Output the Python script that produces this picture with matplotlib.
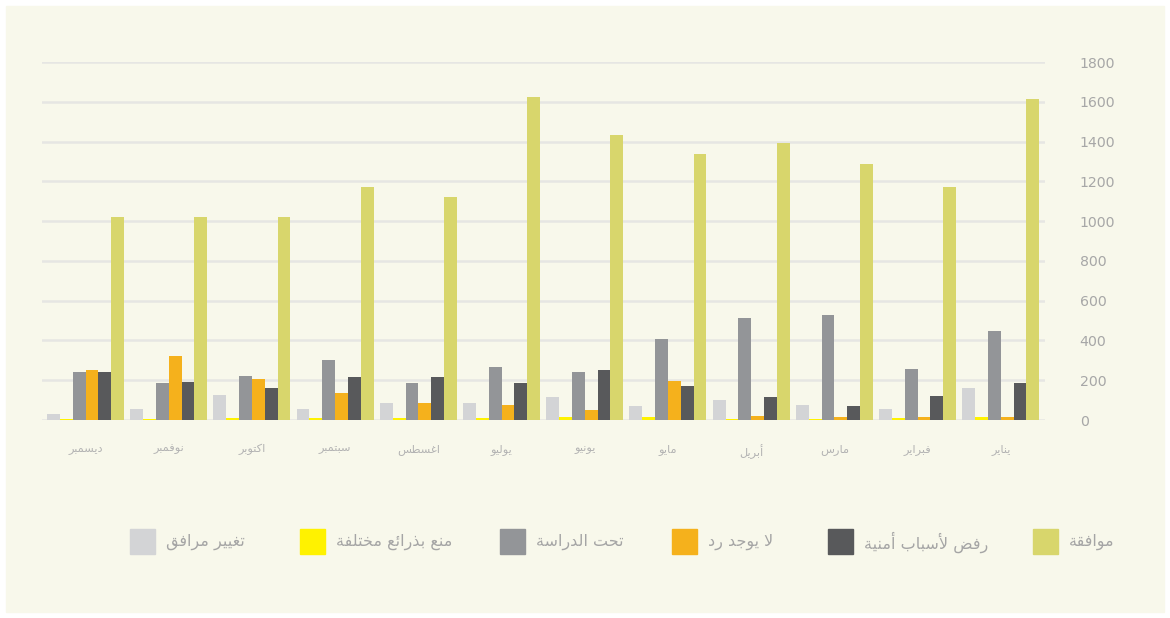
import numpy as np
import matplotlib
matplotlib.use("Agg")
import matplotlib.pyplot as plt
from matplotlib.patches import Rectangle

# months Jan..Dec (Arabic)
months = ["يناير", "فبراير", "مارس", "أبريل", "مايو", "يونيو",
          "يوليو", "اغسطس", "سبتمبر", "اكتوبر", "نوفمبر", "ديسمبر"]

# series, values Jan..Dec
facility_change = [160, 55, 75, 100, 70, 115, 85, 85, 55, 125, 55, 30]
blocked_misc    = [15, 8, 5, 5, 15, 15, 10, 10, 10, 10, 5, 5]
under_study     = [445, 255, 530, 515, 405, 240, 265, 185, 300, 220, 185, 240]
no_reply        = [15, 15, 15, 20, 195, 50, 75, 85, 135, 205, 320, 250]
security_reject = [185, 120, 70, 115, 170, 250, 185, 215, 215, 160, 190, 240]
approved        = [1615, 1170, 1285, 1395, 1335, 1435, 1625, 1120, 1170, 1020, 1020, 1020]

series_names = ["تغيير مرافق", "منع بذرائع مختلفة", "تحت الدراسة",
                "لا يوجد رد", "رفض لأسباب أمنية", "موافقة"]
series_vals = [facility_change, blocked_misc, under_study,
               no_reply, security_reject, approved]
colors = ["#d3d4d6", "#fff200", "#939598", "#f5b11c", "#58595b", "#d8d66c"]

yticks = [0, 200, 400, 600, 800, 1000, 1200, 1400, 1600, 1800]

# minimal arabic shaping: (isolated, final, initial, medial)
FORMS = {
    "ء": ("\uFE80", None, None, None),
    "أ": ("\uFE83", "\uFE84", None, None),
    "ا": ("\uFE8D", "\uFE8E", None, None),
    "ئ": ("\uFE89", "\uFE8A", "\uFE8B", "\uFE8C"),
    "ب": ("\uFE8F", "\uFE90", "\uFE91", "\uFE92"),
    "ة": ("\uFE93", "\uFE94", None, None),
    "ت": ("\uFE95", "\uFE96", "\uFE97", "\uFE98"),
    "ج": ("\uFE9D", "\uFE9E", "\uFE9F", "\uFEA0"),
    "ح": ("\uFEA1", "\uFEA2", "\uFEA3", "\uFEA4"),
    "خ": ("\uFEA5", "\uFEA6", "\uFEA7", "\uFEA8"),
    "د": ("\uFEA9", "\uFEAA", None, None),
    "ذ": ("\uFEAB", "\uFEAC", None, None),
    "ر": ("\uFEAD", "\uFEAE", None, None),
    "س": ("\uFEB1", "\uFEB2", "\uFEB3", "\uFEB4"),
    "ض": ("\uFEBD", "\uFEBE", "\uFEBF", "\uFEC0"),
    "ط": ("\uFEC1", "\uFEC2", "\uFEC3", "\uFEC4"),
    "ع": ("\uFEC9", "\uFECA", "\uFECB", "\uFECC"),
    "غ": ("\uFECD", "\uFECE", "\uFECF", "\uFED0"),
    "ف": ("\uFED1", "\uFED2", "\uFED3", "\uFED4"),
    "ق": ("\uFED5", "\uFED6", "\uFED7", "\uFED8"),
    "ك": ("\uFED9", "\uFEDA", "\uFEDB", "\uFEDC"),
    "ل": ("\uFEDD", "\uFEDE", "\uFEDF", "\uFEE0"),
    "م": ("\uFEE1", "\uFEE2", "\uFEE3", "\uFEE4"),
    "ن": ("\uFEE5", "\uFEE6", "\uFEE7", "\uFEE8"),
    "و": ("\uFEED", "\uFEEE", None, None),
    "ي": ("\uFEF1", "\uFEF2", "\uFEF3", "\uFEF4"),
    "لا": ("\uFEFB", "\uFEFC", None, None),
    "لأ": ("\uFEF7", "\uFEF8", None, None),
}


def shape(text):
    tokens = []
    i = 0
    while i < len(text):
        if text[i:i + 2] in ("لا", "لأ"):
            tokens.append(text[i:i + 2])
            i += 2
        else:
            tokens.append(text[i])
            i += 1
    out = []
    for k, t in enumerate(tokens):
        if t not in FORMS:
            out.append(t)
            continue
        iso, fin, ini, med = FORMS[t]
        prev = tokens[k - 1] if k > 0 else None
        nxt = tokens[k + 1] if k + 1 < len(tokens) else None
        jp = prev in FORMS and FORMS[prev][2] is not None and fin is not None
        jn = ini is not None and nxt in FORMS and FORMS[nxt][1] is not None
        if jp and jn:
            out.append(med)
        elif jp:
            out.append(fin)
        elif jn:
            out.append(ini)
        else:
            out.append(iso)
    return "".join(out)[::-1]


W, H = 1170, 618
fig = plt.figure(figsize=(W / 100, H / 100), dpi=100, facecolor="white")
fig.patches.append(Rectangle((6 / W, 6 / H), 1 - 12 / W, 1 - 12 / H,
                             transform=fig.transFigure, color="#f8f8eb", zorder=-5))

ax = fig.add_axes([42 / W, (H - 420) / H, 1003 / W, 358 / H])
ax.set_facecolor("none")

pos = 11 - np.arange(len(months))
w = 0.154
for j, (vals, col) in enumerate(zip(series_vals, colors)):
    ax.bar(pos + (j - 2.5) * w, vals, width=w, color=col, linewidth=0, zorder=3)

ax.set_xlim(-0.523, 11.532)
ax.set_ylim(0, 1800)
ax.set_yticks(yticks)
ax.yaxis.tick_right()
ax.tick_params(axis="y", length=0, pad=25, labelsize=10.2, labelcolor="#a7a7a7")
ax.grid(axis="y", color="#e6e6e3", linewidth=1.8, zorder=0)
ax.set_axisbelow(True)

ax.set_xticks(pos)
ax.set_xticklabels([shape(m) for m in months], fontfamily="DejaVu Sans",
                   fontsize=8.2, color="#b3b3b3")
ax.tick_params(axis="x", length=0, pad=17)

for s in ax.spines.values():
    s.set_visible(False)

# legend
sw_x = [130, 300, 500, 672, 828, 1033]
for name, col, x0 in zip(series_names, colors, sw_x):
    fig.patches.append(Rectangle((x0 / W, (H - 554) / H), 25 / W, 25 / H,
                                 transform=fig.transFigure, color=col, zorder=2))
    fig.text((x0 + 36) / W, (H - 542) / H, shape(name), fontfamily="DejaVu Sans",
             fontsize=11.5, color="#a5a5a5", ha="left", va="center")

fig.savefig("out.png", dpi=100, facecolor=fig.get_facecolor())
